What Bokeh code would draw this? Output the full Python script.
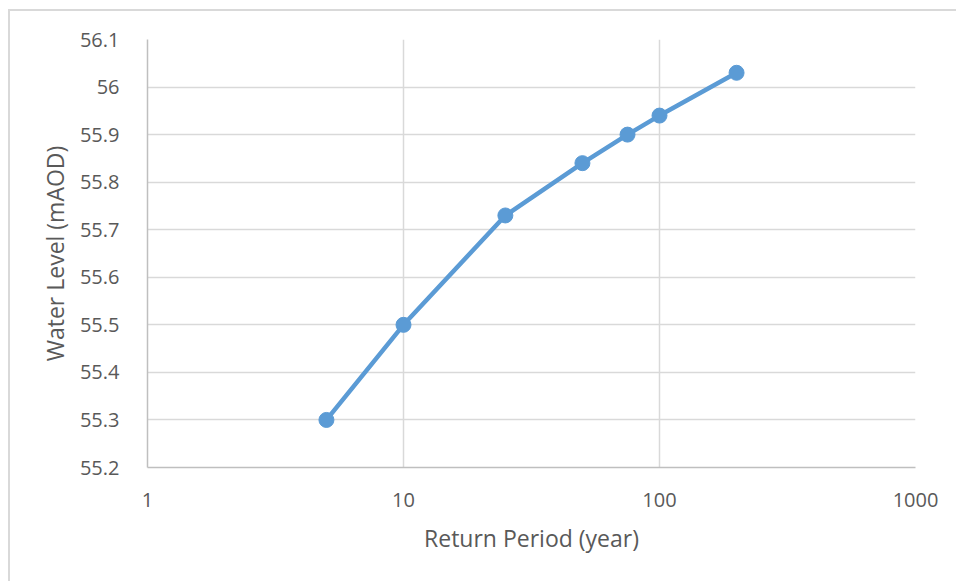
from bokeh.plotting import figure
from bokeh.models import FixedTicker, CustomJSTickFormatter, Range1d
from bokeh.embed import file_html
from bokeh.resources import INLINE

return_period = [5, 10, 25, 50, 75, 100, 200]
water_level = [55.3, 55.5, 55.73, 55.84, 55.9, 55.94, 56.03]
x_ticks = [1, 10, 100, 1000]
y_ticks = [55.2, 55.3, 55.4, 55.5, 55.6, 55.7, 55.8, 55.9, 56.0, 56.1]

FONT = "Open Sans"
TXT = "#595959"

p = figure(width=950, height=575, x_axis_type="log", output_backend="svg",
           toolbar_location=None, x_range=Range1d(1, 1000), y_range=Range1d(55.2, 56.1),
           min_border_left=137, min_border_right=45, min_border_top=28, min_border_bottom=119)
p.styles = {"border-left": "2px solid #d9d9d9", "border-top": "2px solid #d9d9d9",
            "margin-left": "8px", "margin-top": "9px"}
p.outline_line_color = None

p.line(return_period, water_level, line_color="#5b9bd5", line_width=4.5)
p.scatter(return_period, water_level, size=15, fill_color="#5b9bd5", line_color="#5b9bd5")

for ax in (p.xaxis[0], p.yaxis[0]):
    ax.axis_line_color = "#bfbfbf"
    ax.axis_line_width = 1.5
    ax.major_tick_line_color = None
    ax.minor_tick_line_color = None
    ax.major_label_text_font = FONT
    ax.major_label_text_font_size = "20px"
    ax.major_label_text_color = TXT
    ax.axis_label_text_font = FONT
    ax.axis_label_text_font_size = "23px"
    ax.axis_label_text_color = TXT
    ax.axis_label_text_font_style = "normal"

p.xaxis.ticker = FixedTicker(ticks=x_ticks, minor_ticks=[])
p.yaxis.ticker = FixedTicker(ticks=y_ticks, minor_ticks=[])
p.xaxis.formatter = CustomJSTickFormatter(code="return String(Math.round(tick));")
p.yaxis.formatter = CustomJSTickFormatter(code="return String(Math.round(tick*10)/10);")
p.xaxis.major_label_standoff = 19
p.yaxis.major_label_standoff = 22
p.xaxis.axis_label = "Return Period (year)"
p.yaxis.axis_label = "Water Level (mAOD)"
p.xaxis.axis_label_standoff = 12
p.yaxis.axis_label_standoff = 6

p.xgrid.ticker = FixedTicker(ticks=x_ticks, minor_ticks=[])
p.ygrid.ticker = FixedTicker(ticks=y_ticks, minor_ticks=[])
p.xgrid.grid_line_color = "#d9d9d9"
p.ygrid.grid_line_color = "#d9d9d9"
p.xgrid.grid_line_width = 1.5
p.ygrid.grid_line_width = 1.5

open("out.html", "w").write(file_html(p, INLINE))
